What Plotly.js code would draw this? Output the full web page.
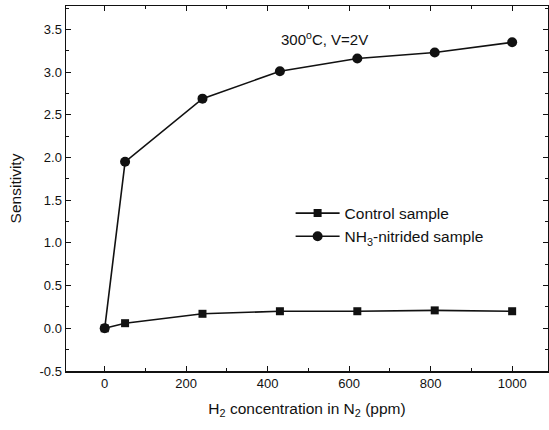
<!DOCTYPE html>
<html><head><meta charset="utf-8">
<script src="https://cdn.plot.ly/plotly-3.0.1.min.js"></script>
<style>body{margin:0;background:#fff}#c{width:549px;height:430px}</style>
</head><body><div id="c"></div>
<script>
const conc = [0, 50, 240, 430, 620, 810, 1000];
const control = [0, 0.06, 0.17, 0.20, 0.20, 0.21, 0.20];
const nitrided = [0, 1.95, 2.69, 3.01, 3.16, 3.23, 3.35];
const xTicks = [0, 200, 400, 600, 800, 1000];
const yTicks = [-0.5, 0, 0.5, 1, 1.5, 2, 2.5, 3, 3.5];
const yTickText = ['-0.5','0.0','0.5','1.0','1.5','2.0','2.5','3.0','3.5'];

const font = {family: 'Liberation Sans, Arial, sans-serif', color: '#111'};
const traces = [
  {x: conc, y: control, name: 'Control sample', mode: 'lines+markers',
   line: {color: '#111', width: 1.6}, marker: {symbol: 'square', size: 8, color: '#111'}},
  {x: conc, y: nitrided, name: 'NH<sub>3</sub>-nitrided sample', mode: 'lines+markers',
   line: {color: '#111', width: 1.6}, marker: {symbol: 'circle', size: 10, color: '#111'}}
];
const axBase = {showgrid: false, zeroline: false, showline: true, linecolor: '#111', linewidth: 1.5,
  mirror: 'allticks', ticks: 'inside', ticklen: 5, tickwidth: 1, tickcolor: '#111',
  tickfont: Object.assign({size: 13}, font)};
const layout = {
  width: 549, height: 430, margin: {l: 66, r: 1, t: 6, b: 59},
  paper_bgcolor: '#fff', plot_bgcolor: '#fff', font: font,
  showlegend: true,
  legend: {x: 0.466, y: 0.478, xanchor: 'left', yanchor: 'top', bgcolor: 'rgba(0,0,0,0)',
    font: Object.assign({size: 15.5}, font), tracegroupgap: 0, itemwidth: 44},
  xaxis: Object.assign({}, axBase, {range: [-95, 1088], tickvals: xTicks,
    minor: {dtick: 100, ticks: 'inside', ticklen: 3, tickcolor: '#111'},
    title: {text: 'H<sub>2</sub> concentration in N<sub>2</sub> (ppm)', font: Object.assign({size: 15.5}, font), standoff: 13}}),
  yaxis: Object.assign({}, axBase, {range: [-0.5, 3.775], tickvals: yTicks, ticktext: yTickText,
    minor: {dtick: 0.25, ticks: 'inside', ticklen: 3, tickcolor: '#111'},
    title: {text: 'Sensitivity', font: Object.assign({size: 15.5}, font), standoff: 14}}),
  annotations: [{x: 0.442, y: 0.912, xref: 'paper', yref: 'paper', xanchor: 'left', yanchor: 'middle',
    text: '300<sup>o</sup>C, V=2V', showarrow: false, font: Object.assign({size: 15}, font)}]
};
Plotly.newPlot('c', traces, layout, {staticPlot: true});
</script></body></html>
